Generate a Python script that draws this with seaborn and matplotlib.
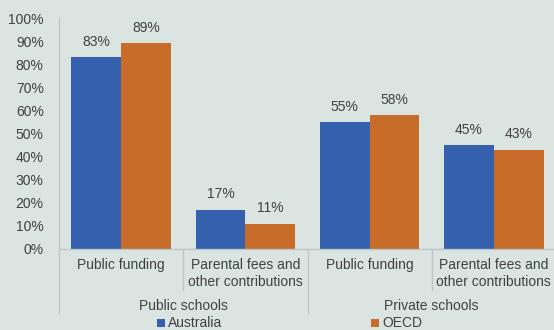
import matplotlib
matplotlib.use("Agg")
import matplotlib.pyplot as plt
from matplotlib.patches import Rectangle
import seaborn as sns
import pandas as pd

categories = ["Public funding", "Parental fees and\nother contributions",
              "Public funding", "Parental fees and\nother contributions"]
groups = ["Public schools", "Private schools"]
australia = [83, 17, 55, 45]
oecd = [89, 11, 58, 43]
series = ["Australia", "OECD"]
yticks = [0, 10, 20, 30, 40, 50, 60, 70, 80, 90, 100]

BG = "#dae4e1"
BLUE = "#3460ad"
ORANGE = "#c86c2a"
TEXT = "#404040"
LINE = "#bcc6c4"

sns.set_theme(style="white")
plt.rcParams["font.family"] = ["Liberation Sans", "DejaVu Sans"]

slots = [f"s{i}" for i in range(len(categories))]
df = pd.DataFrame({
    "slot": slots * 2,
    "series": [series[0]] * 4 + [series[1]] * 4,
    "value": australia + oecd,
})

fig = plt.figure(figsize=(5.54, 3.30), dpi=100, facecolor=BG)
W, H = 554, 330
ax = fig.add_axes([59 / W, 1 - 249 / H, (556 - 59) / W, (249 - 18) / H])
ax.set_facecolor(BG)

sns.barplot(data=df, x="slot", y="value", hue="series", order=slots,
            hue_order=series, palette=[BLUE, ORANGE], width=0.8,
            saturation=1, ax=ax, legend=False, edgecolor="none")

for cont in ax.containers:
    ax.bar_label(cont, labels=[f"{v:.0f}%" for v in cont.datavalues],
                 padding=6, fontsize=10, color=TEXT)

ax.set_ylim(0, 100)
ax.set_xlim(-0.5, 3.5)
ax.set_yticks(yticks)
ax.set_yticklabels([f"{t}%" for t in yticks], fontsize=10, color=TEXT)
ax.tick_params(axis="y", length=3, width=1, color=LINE, pad=8, direction="out")
ax.set_xticks([])
ax.set_xlabel("")
ax.set_ylabel("")
for s in ["top", "right"]:
    ax.spines[s].set_visible(False)
ax.spines["left"].set_visible(False)
ax.spines["bottom"].set_color(LINE)
ax.spines["bottom"].set_linewidth(1)

# category and group labels below the axis, with separators
def fx(px):
    return px / W

def fy(py):
    return 1 - py / H

slot_w = (556 - 59) / 4
centers = [59 + slot_w * (i + 0.5) for i in range(4)]
for c, lab in zip(centers, categories):
    fig.text(fx(c), fy(258), lab, ha="center", va="top", fontsize=10,
             color=TEXT, linespacing=1.3)
for gi, g in enumerate(groups):
    fig.text(fx(59 + slot_w * (2 * gi + 1)), fy(306), g, ha="center",
             va="center", fontsize=10, color=TEXT)

fig.add_artist(plt.Line2D([fx(59), fx(59)], [fy(18), fy(313)], color=LINE, lw=1))
for i, py in [(1, 290), (2, 313), (3, 290)]:
    x = fx(59 + slot_w * i)
    fig.add_artist(plt.Line2D([x, x], [fy(249), fy(py)], color=LINE, lw=1))

# legend entries
for px, lab, col in [(157, series[0], BLUE), (371, series[1], ORANGE)]:
    fig.add_artist(Rectangle((fx(px), fy(327)), 8 / W, 8 / H, color=col,
                             transform=fig.transFigure, lw=0))
    fig.text(fx(px + 11), fy(323), lab, ha="left", va="center",
             fontsize=10, color=TEXT)

fig.savefig("out.png", dpi=100, facecolor=BG)
